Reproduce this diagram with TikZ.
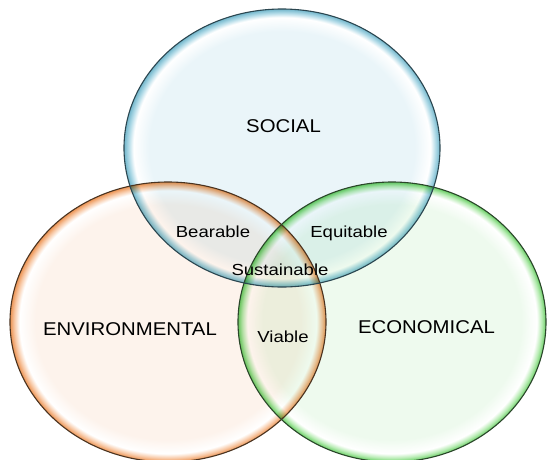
\documentclass[tikz,border=0pt]{standalone}
\usepackage{fontspec}
\setmainfont{Liberation Sans}
\usetikzlibrary{shadings}
\definecolor{socin}{HTML}{EAF5F9}
\definecolor{socmid}{HTML}{B0DAE7}
\definecolor{socedge}{HTML}{72B6CB}
\definecolor{socline}{HTML}{2B4650}
\definecolor{envin}{HTML}{FDF3EC}
\definecolor{envmid}{HTML}{F8CAA8}
\definecolor{envedge}{HTML}{EC9352}
\definecolor{envline}{HTML}{4A3320}
\definecolor{ecoin}{HTML}{EEFAEE}
\definecolor{ecomid}{HTML}{B8ECB4}
\definecolor{ecoedge}{HTML}{68CE63}
\definecolor{ecoline}{HTML}{2A462A}
\pgfdeclareradialshading{socsh}{\pgfpoint{0bp}{0bp}}{color(0bp)=(socin); color(21bp)=(socin); color(23.5bp)=(white); color(24.3bp)=(socmid); color(25bp)=(socedge); color(50bp)=(socedge)}
\pgfdeclareradialshading{envsh}{\pgfpoint{0bp}{0bp}}{color(0bp)=(envin); color(21bp)=(envin); color(23.5bp)=(white); color(24.3bp)=(envmid); color(25bp)=(envedge); color(50bp)=(envedge)}
\pgfdeclareradialshading{ecosh}{\pgfpoint{0bp}{0bp}}{color(0bp)=(ecoin); color(21bp)=(ecoin); color(23.5bp)=(white); color(24.3bp)=(ecomid); color(25bp)=(ecoedge); color(50bp)=(ecoedge)}
\tikzset{
  bigtext/.style={anchor=base, inner sep=0pt, font=\fontsize{18.5}{20}\selectfont, text=black},
  smalltext/.style={anchor=base, inner sep=0pt, font=\fontsize{16}{18}\selectfont, text=black},
  bubble/.style={blend mode=multiply},
  rim/.style={line width=1.1pt}
}
\newcommand{\wideA}[1]{\scalebox{1.1}[1]{#1}}
\newcommand{\wideB}[1]{\scalebox{1.16}[1]{#1}}
\begin{document}
\begin{tikzpicture}[x=1pt,y=-1pt]
\useasboundingbox (0,0) rectangle (547,459);
\clip (0,0) rectangle (547,459);
% fills
\shade[bubble, shading=envsh] (168,322) ellipse [x radius=158, y radius=140];
\shade[bubble, shading=ecosh] (392,322) ellipse [x radius=154, y radius=140];
\shade[bubble, shading=socsh] (282,148) ellipse [x radius=158, y radius=139];
% outlines
\draw[rim, envline] (168,322) ellipse [x radius=158, y radius=140];
\draw[rim, ecoline] (392,322) ellipse [x radius=154, y radius=140];
\draw[rim, socline] (282,148) ellipse [x radius=158, y radius=139];
% labels
\node[bigtext] (social) at (283.5,132) {\wideA{SOCIAL}};
\node[bigtext] (env) at (130,335) {\wideA{ENVIRONMENTAL}};
\node[bigtext] (eco) at (426.5,333) {\wideA{ECONOMICAL}};
\node[smalltext] (bear) at (213,237) {\wideB{Bearable}};
\node[smalltext] (equi) at (349,237) {\wideB{Equitable}};
\node[smalltext] (sust) at (280,275) {\wideB{Sustainable}};
\node[smalltext] (viab) at (283,342) {\wideB{Viable}};
\end{tikzpicture}
\end{document}
